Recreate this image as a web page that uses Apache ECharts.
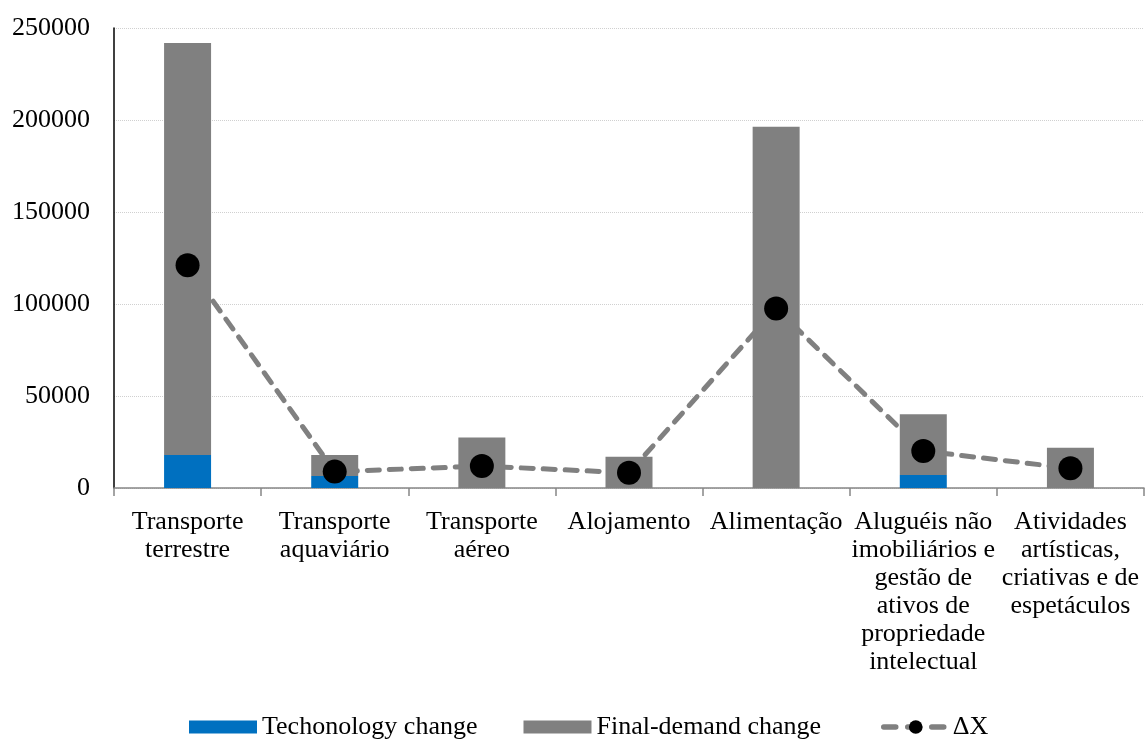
<!DOCTYPE html>
<html>
<head>
<meta charset="utf-8">
<script src="https://cdn.jsdelivr.net/npm/echarts@6/dist/echarts.min.js"></script>
<style>
html,body{margin:0;padding:0;background:#fff;}
#chart{width:1145px;height:742px;}
</style>
</head>
<body>
<div id="chart"></div>
<script>
const categories = [
  "Transporte\nterrestre",
  "Transporte\naquaviário",
  "Transporte\naéreo",
  "Alojamento",
  "Alimentação",
  "Aluguéis não\nimobiliários e\ngestão de\nativos de\npropriedade\nintelectual",
  "Atividades\nartísticas,\ncriativas e de\nespetáculos"
];
const techChange = [17900, 6500, -1200, 0, -600, 7100, 0];
const finalDemandChange = [224000, 11400, 27500, 17000, 196300, 33000, 21900];
const deltaX = [121000, 8900, 11900, 8300, 97600, 20100, 10700];
const yTicks = [0, 50000, 100000, 150000, 200000, 250000];

const FONT = "'Liberation Serif','Times New Roman',serif";
const chart = echarts.init(document.getElementById('chart'), null, {renderer: 'canvas'});
chart.setOption({
  animation: false,
  backgroundColor: '#ffffff',
  grid: {left: 114, right: 1, top: 28, bottom: 254, containLabel: false},
  legend: [
    {
      top: 708,
      left: 184,
      itemWidth: 68,
      itemHeight: 13,
      itemGap: 46,
      icon: 'rect',
      textStyle: {fontFamily: FONT, fontSize: 26, lineHeight: 28, color: '#000'},
      data: ['Techonology change', 'Final-demand change']
    },
    {
      top: 708,
      left: 876,
      itemWidth: 64,
      itemHeight: 17,
      itemGap: 10,
      textStyle: {fontFamily: FONT, fontSize: 26, lineHeight: 28, color: '#000'},
      lineStyle: {width: 5.5, type: [12, 12], cap: 'round', color: '#808080'},
      data: ['ΔX']
    }
  ],
  xAxis: {
    type: 'category',
    data: categories,
    axisLine: {lineStyle: {color: '#878787', width: 1.5}},
    axisTick: {show: true, length: 8, lineStyle: {color: '#878787', width: 1.5}},
    axisLabel: {
      interval: 0,
      fontFamily: FONT,
      fontSize: 26,
      lineHeight: 28,
      color: '#000',
      margin: 20
    }
  },
  yAxis: {
    type: 'value',
    min: yTicks[0],
    max: yTicks[yTicks.length - 1],
    interval: 50000,
    axisLine: {show: true, lineStyle: {color: '#000', width: 1.5}},
    axisTick: {show: false},
    axisLabel: {fontFamily: FONT, fontSize: 26, color: '#000', margin: 24, formatter: function (v) { return String(v); }},
    splitLine: {show: true, lineStyle: {color: '#d0d0d0', type: 'dotted', width: 1}}
  },
  series: [
    {
      name: 'Techonology change',
      type: 'bar',
      stack: 'total',
      barWidth: 47,
      itemStyle: {color: '#0070C0'},
      data: techChange
    },
    {
      name: 'Final-demand change',
      type: 'bar',
      stack: 'total',
      barWidth: 47,
      itemStyle: {color: '#808080'},
      data: finalDemandChange
    },
    {
      name: 'ΔX',
      type: 'line',
      symbol: 'circle',
      symbolSize: 24,
      itemStyle: {color: '#000000'},
      lineStyle: {color: '#808080', width: 5, type: [12, 10], cap: 'round'},
      z: 5,
      data: deltaX
    }
  ]
});
</script>
</body>
</html>
